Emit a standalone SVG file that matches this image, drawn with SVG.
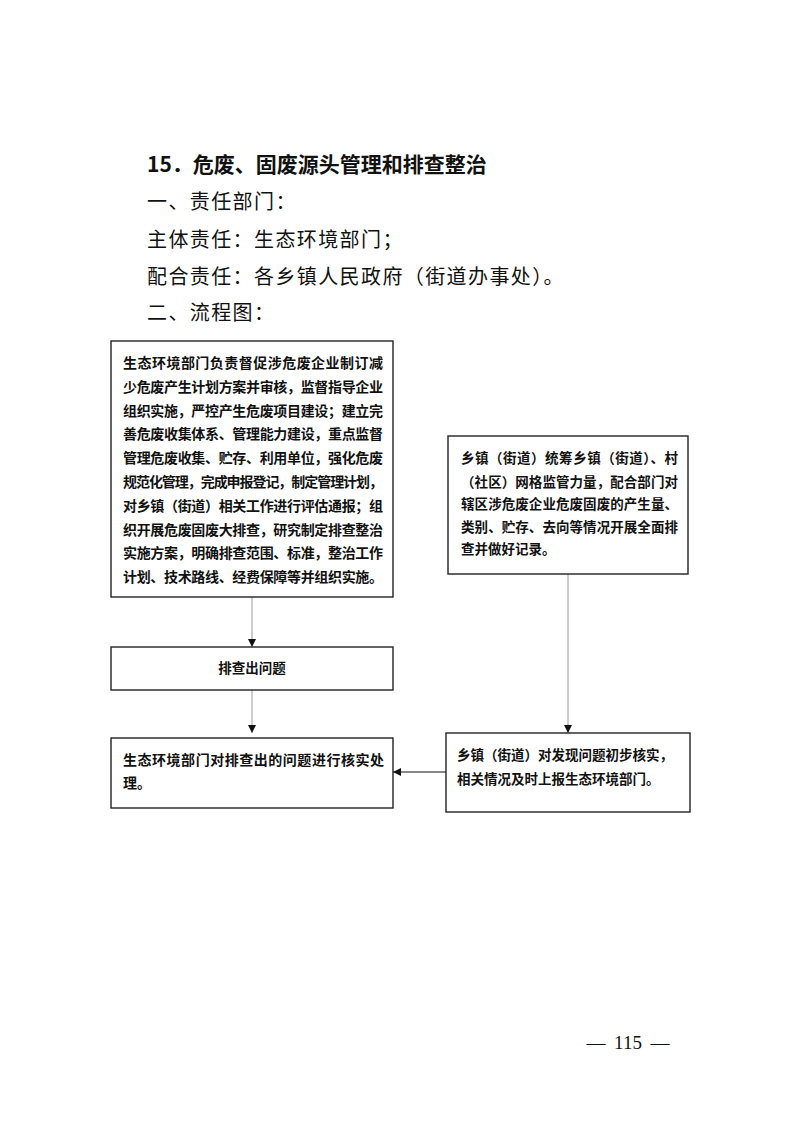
<svg xmlns="http://www.w3.org/2000/svg" width="793" height="1122" viewBox="0 0 793 1122">
<style>
.box{fill:#fff;stroke:#222;stroke-width:1.4}
.t{font-family:"Noto Sans CJK SC","Noto Sans",sans-serif;fill:#111}
.b1{font-size:14px;font-weight:bold}
.b2{font-size:13.5px;font-weight:bold}
.h{font-size:20px;letter-spacing:1.4px}
.title{font-size:21px;font-weight:bold}
.conn{stroke:#9a9a9a;stroke-width:1;fill:none}
.connk{stroke:#111;stroke-width:1.2;fill:none}
.pg{font-family:"Liberation Serif","Times New Roman",serif;font-size:19px;fill:#111}
</style>
<defs>
<marker id="ah" viewBox="0 0 10 10" refX="10" refY="5" markerWidth="8" markerHeight="8" markerUnits="userSpaceOnUse" orient="auto">
<path d="M0,0 L10,5 L0,10 Z" fill="#111"/>
</marker>
</defs>
<rect width="793" height="1122" fill="#fff"/>

<g id="header">
<text class="t title" x="147" y="172">15．危废、固废源头管理和排查整治</text>
<text class="t h" x="147" y="209">一、责任部门：</text>
<text class="t h" x="147" y="247">主体责任：生态环境部门；</text>
<text class="t h" x="147" y="284">配合责任：各乡镇人民政府（街道办事处）。</text>
<text class="t h" x="147" y="320">二、流程图：</text>
</g>

<g id="connectors">
<line class="conn" x1="252" y1="597" x2="252" y2="647" marker-end="url(#ah)"/>
<line class="conn" x1="252" y1="690" x2="252" y2="733" marker-end="url(#ah)"/>
<line class="conn" x1="568" y1="574" x2="568" y2="733" marker-end="url(#ah)"/>
<line class="connk" x1="446" y1="772" x2="393" y2="772" marker-end="url(#ah)"/>
</g>

<g id="node1">
<rect class="box" x="111" y="341" width="282" height="256"/>
<text class="t b1" x="123" y="368" textLength="260" lengthAdjust="spacing">生态环境部门负责督促涉危废企业制订减</text>
<text class="t b1" x="123" y="391.8" textLength="260" lengthAdjust="spacing">少危废产生计划方案并审核，监督指导企业</text>
<text class="t b1" x="123" y="415.6" textLength="260" lengthAdjust="spacing">组织实施，严控产生危废项目建设；建立完</text>
<text class="t b1" x="123" y="439.4" textLength="260" lengthAdjust="spacing">善危废收集体系、管理能力建设，重点监督</text>
<text class="t b1" x="123" y="463.2" textLength="260" lengthAdjust="spacing">管理危废收集、贮存、利用单位，强化危废</text>
<text class="t b1" x="123" y="487" textLength="260" lengthAdjust="spacing">规范化管理，完成申报登记，制定管理计划，</text>
<text class="t b1" x="123" y="510.8" textLength="260" lengthAdjust="spacing">对乡镇（街道）相关工作进行评估通报；组</text>
<text class="t b1" x="123" y="534.6" textLength="260" lengthAdjust="spacing">织开展危废固废大排查，研究制定排查整治</text>
<text class="t b1" x="123" y="558.4" textLength="260" lengthAdjust="spacing">实施方案，明确排查范围、标准，整治工作</text>
<text class="t b1" x="123" y="582.2" textLength="260" lengthAdjust="spacing">计划、技术路线、经费保障等并组织实施。</text>
</g>

<g id="node2">
<rect class="box" x="448" y="436" width="240" height="138"/>
<text class="t b2" x="461" y="463" textLength="217" lengthAdjust="spacing">乡镇（街道）统筹乡镇（街道）、村</text>
<text class="t b2" x="461" y="486.5" textLength="217" lengthAdjust="spacing">（社区）网格监管力量，配合部门对</text>
<text class="t b2" x="461" y="509" textLength="217" lengthAdjust="spacing">辖区涉危废企业危废固废的产生量、</text>
<text class="t b2" x="461" y="531.5" textLength="217" lengthAdjust="spacing">类别、贮存、去向等情况开展全面排</text>
<text class="t b2" x="461" y="554">查并做好记录。</text>
</g>

<g id="node3">
<rect class="box" x="111" y="647" width="282" height="43"/>
<text class="t b2" x="252" y="673" text-anchor="middle">排查出问题</text>
</g>

<g id="node4">
<rect class="box" x="111" y="738" width="282" height="70"/>
<text class="t b1" x="123" y="765" textLength="261" lengthAdjust="spacing">生态环境部门对排查出的问题进行核实处</text>
<text class="t b1" x="123" y="788">理。</text>
</g>

<g id="node5">
<rect class="box" x="446" y="733" width="244" height="79"/>
<text class="t b2" x="457" y="760" textLength="216" lengthAdjust="spacing">乡镇（街道）对发现问题初步核实，</text>
<text class="t b2" x="457" y="784">相关情况及时上报生态环境部门。</text>
</g>

<g id="footer">
<text class="pg" x="596" y="1049" text-anchor="middle">—</text>
<text class="pg" x="628" y="1049" text-anchor="middle">115</text>
<text class="pg" x="660" y="1049" text-anchor="middle">—</text>
</g>
</svg>
